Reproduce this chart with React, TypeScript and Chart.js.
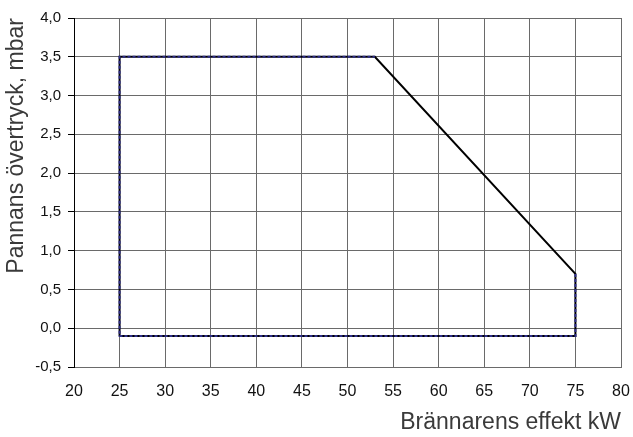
import React, { useEffect, useRef } from "react";
import { Chart, registerables } from "chart.js";

Chart.register(...registerables);

// Operating field boundary (burner output kW vs. boiler overpressure mbar)
const boundaryX = [25, 25, 53, 75, 75, 25];
const boundaryY = [-0.1, 3.5, 3.5, 0.7, -0.1, -0.1];
// Dashed overlay path (all edges except the sloping one)
const dashedX = [75, 75, 25, 25, 53];
const dashedY = [0.7, -0.1, -0.1, 3.5, 3.5];

const xMin = 20;
const xMax = 80;
const xStep = 5;
const yMin = -0.5;
const yMax = 4.0;
const yStep = 0.5;

const xTitle = "Brännarens effekt kW";
const yTitle = "Pannans övertryck, mbar";

const FONT = "'Liberation Sans', Arial, Helvetica, sans-serif";

export default function App() {
  const ref = useRef<HTMLCanvasElement | null>(null);

  useEffect(() => {
    document.body.style.margin = "0";
    const canvas = ref.current;
    if (!canvas) return;
    const chart = new Chart(canvas, {
      type: "scatter",
      data: {
        datasets: [
          {
            label: "dashed",
            data: dashedX.map((x, i) => ({ x, y: dashedY[i] })),
            showLine: true,
            borderColor: "#2e2e8a",
            borderWidth: 2,
            borderDash: [3, 2],
            pointRadius: 0,
            fill: false,
            order: 0,
          },
          {
            label: "boundary",
            data: boundaryX.map((x, i) => ({ x, y: boundaryY[i] })),
            showLine: true,
            borderColor: "#000000",
            borderWidth: 2,
            pointRadius: 0,
            fill: false,
            order: 1,
          },
        ],
      },
      options: {
        animation: false,
        responsive: false,
        devicePixelRatio: 1,
        layout: { padding: { top: 18, right: 0, left: 0, bottom: 0 } },
        plugins: {
          legend: { display: false },
          tooltip: { enabled: false },
        },
        scales: {
          x: {
            type: "linear",
            min: xMin,
            max: xMax,
            ticks: {
              stepSize: xStep,
              padding: 15,
              color: "#111",
              font: { family: FONT, size: 16 },
              callback: (v: any) => String(v),
            },
            grid: { color: "#6a6a6a", drawTicks: false, lineWidth: 1 },
            border: { color: "#6a6a6a" },
            title: {
              display: true,
              text: xTitle,
              align: "end",
              color: "#3a3a3a",
              font: { family: FONT, size: 23 },
              padding: { top: 4, bottom: 1 },
            },
            afterFit: (scale: any) => {
              scale.height = 70;
              scale.paddingRight = 12;
              scale.paddingLeft = 0;
            },
          },
          y: {
            type: "linear",
            min: yMin,
            max: yMax,
            ticks: {
              stepSize: yStep,
              padding: 7,
              color: "#111",
              font: { family: FONT, size: 15 },
              callback: (v: any) => Number(v).toFixed(1).replace(".", ","),
            },
            grid: {
              color: "#6a6a6a",
              drawTicks: true,
              tickLength: 6,
              tickColor: "#000",
              lineWidth: 1,
            },
            border: { color: "#000" },
            title: {
              display: true,
              text: yTitle,
              align: "end",
              color: "#3a3a3a",
              font: { family: FONT, size: 23 },
              padding: { top: 3, bottom: 4 },
            },
            afterFit: (scale: any) => {
              scale.width = 74;
            },
          },
        },
      },
    });
    return () => chart.destroy();
  }, []);

  return (
    <div style={{ width: 633, height: 437 }}>
      <canvas ref={ref} width={633} height={437} />
    </div>
  );
}
